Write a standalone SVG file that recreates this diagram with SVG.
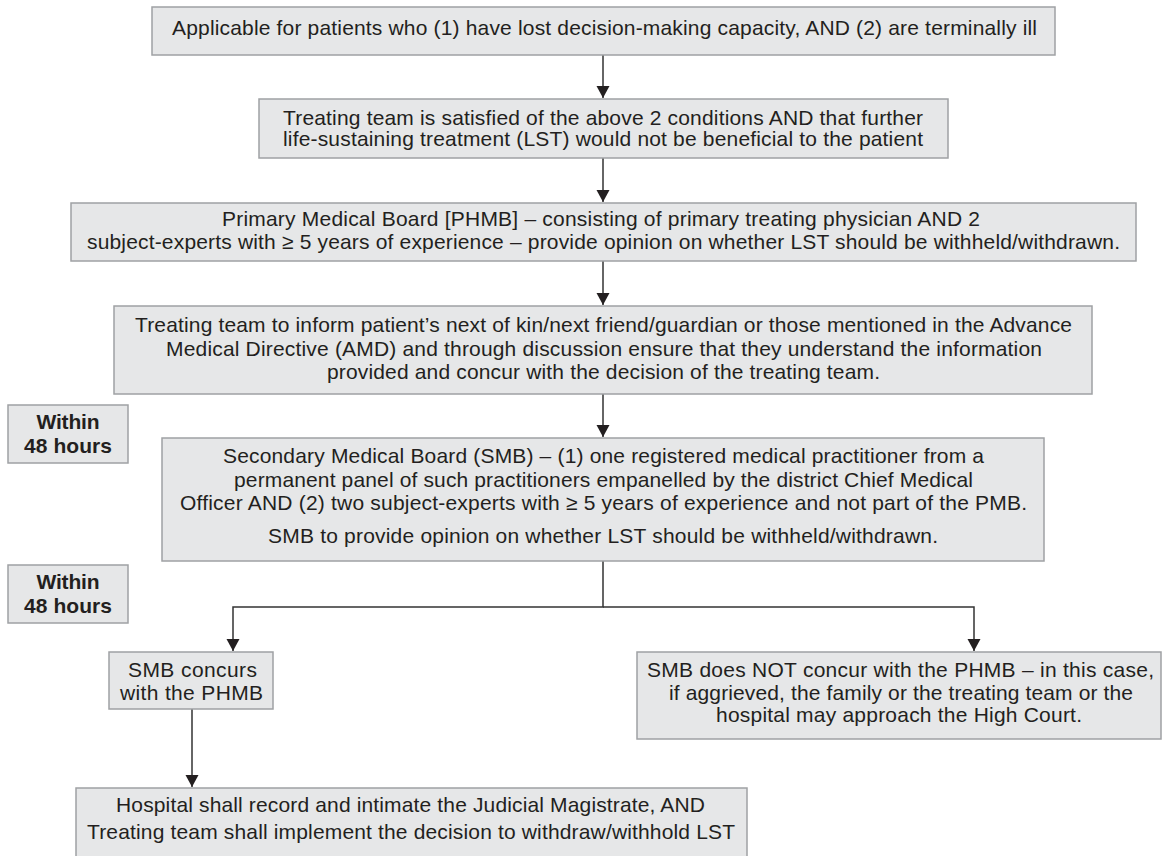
<svg xmlns="http://www.w3.org/2000/svg" width="1163" height="856" viewBox="0 0 1163 856">
<style>
  .box { fill: #e6e7e8; stroke: #9fa1a4; stroke-width: 1.5; }
  .t { font-family: "Liberation Sans", Arial, sans-serif; font-size: 21px; fill: #231f20; text-anchor: middle; }
  .b { font-weight: bold; }
  .l { text-anchor: start; }
  .c { fill: none; stroke: #333333; stroke-width: 1.5; }
</style>
<defs>
  <marker id="arr" markerUnits="userSpaceOnUse" markerWidth="14" markerHeight="14" refX="12" refY="6.5" orient="auto">
    <path d="M0,0 L12,6.5 L0,13 Z" fill="#231f20"/>
  </marker>
</defs>
<rect width="1163" height="856" fill="#ffffff"/>

<g id="connectors">
  <line class="c" x1="603" y1="55" x2="603" y2="98" marker-end="url(#arr)"/>
  <line class="c" x1="603" y1="158" x2="603" y2="202" marker-end="url(#arr)"/>
  <line class="c" x1="603" y1="261" x2="603" y2="305" marker-end="url(#arr)"/>
  <line class="c" x1="603" y1="394" x2="603" y2="437" marker-end="url(#arr)"/>
  <polyline class="c" points="603,561 603,607 233,607 233,651" marker-end="url(#arr)"/>
  <polyline class="c" points="603,607 974,607 974,651" marker-end="url(#arr)"/>
  <line class="c" x1="192" y1="709" x2="192" y2="787" marker-end="url(#arr)"/>
</g>

<g id="n1">
  <rect class="box" x="152" y="7" width="903" height="48"/>
  <text class="t" x="604.5" y="35" textLength="865" lengthAdjust="spacing">Applicable for patients who (1) have lost decision-making capacity, AND (2) are terminally ill</text>
</g>

<g id="n2">
  <rect class="box" x="259" y="99" width="689" height="59"/>
  <text class="t l" x="283" y="124.5" textLength="640" lengthAdjust="spacing">Treating team is satisfied of the above 2 conditions AND that further</text>
  <text class="t l" x="283" y="146" textLength="640" lengthAdjust="spacing">life-sustaining treatment (LST) would not be beneficial to the patient</text>
</g>

<g id="n3">
  <rect class="box" x="71" y="203" width="1065" height="58"/>
  <text class="t" x="601" y="226" textLength="758" lengthAdjust="spacing">Primary Medical Board [PHMB] – consisting of primary treating physician AND 2</text>
  <text class="t" x="603.5" y="249" textLength="1033" lengthAdjust="spacing">subject-experts with ≥ 5 years of experience – provide opinion on whether LST should be withheld/withdrawn.</text>
</g>

<g id="n4">
  <rect class="box" x="114" y="306" width="978" height="88"/>
  <text class="t" x="603.5" y="332" textLength="937" lengthAdjust="spacing">Treating team to inform patient’s next of kin/next friend/guardian or those mentioned in the Advance</text>
  <text class="t" x="604" y="356" textLength="876" lengthAdjust="spacing">Medical Directive (AMD) and through discussion ensure that they understand the information</text>
  <text class="t" x="603.5" y="379" textLength="553" lengthAdjust="spacing">provided and concur with the decision of the treating team.</text>
</g>

<g id="w1">
  <rect class="box" x="8" y="405" width="120" height="58"/>
  <text class="t b" x="68" y="429" textLength="63" lengthAdjust="spacing">Within</text>
  <text class="t b" x="68" y="453" textLength="88" lengthAdjust="spacing">48 hours</text>
</g>

<g id="n5">
  <rect class="box" x="162" y="438" width="882" height="123"/>
  <text class="t" x="603.5" y="463" textLength="761" lengthAdjust="spacing">Secondary Medical Board (SMB) – (1) one registered medical practitioner from a</text>
  <text class="t" x="603.5" y="487" textLength="739" lengthAdjust="spacing">permanent panel of such practitioners empanelled by the district Chief Medical</text>
  <text class="t" x="603.5" y="510" textLength="847" lengthAdjust="spacing">Officer AND (2) two subject-experts with ≥ 5 years of experience and not part of the PMB.</text>
  <text class="t" x="603" y="543" textLength="670" lengthAdjust="spacing">SMB to provide opinion on whether LST should be withheld/withdrawn.</text>
</g>

<g id="w2">
  <rect class="box" x="8" y="565" width="120" height="58"/>
  <text class="t b" x="68" y="589" textLength="63" lengthAdjust="spacing">Within</text>
  <text class="t b" x="68" y="613" textLength="88" lengthAdjust="spacing">48 hours</text>
</g>

<g id="n6">
  <rect class="box" x="109" y="652" width="164" height="57"/>
  <text class="t" x="192.5" y="677" textLength="129" lengthAdjust="spacing">SMB concurs</text>
  <text class="t" x="191.5" y="700" textLength="143" lengthAdjust="spacing">with the PHMB</text>
</g>

<g id="n7">
  <rect class="box" x="637" y="652" width="524" height="87"/>
  <text class="t" x="900.5" y="677" textLength="507" lengthAdjust="spacing">SMB does NOT concur with the PHMB – in this case,</text>
  <text class="t" x="901" y="700" textLength="464" lengthAdjust="spacing">if aggrieved, the family or the treating team or the</text>
  <text class="t" x="899" y="722" textLength="366" lengthAdjust="spacing">hospital may approach the High Court.</text>
</g>

<g id="n8">
  <rect class="box" x="76" y="788" width="671" height="70"/>
  <text class="t" x="410.5" y="812" textLength="589" lengthAdjust="spacing">Hospital shall record and intimate the Judicial Magistrate, AND</text>
  <text class="t" x="411" y="839" textLength="648" lengthAdjust="spacing">Treating team shall implement the decision to withdraw/withhold LST</text>
</g>
</svg>
